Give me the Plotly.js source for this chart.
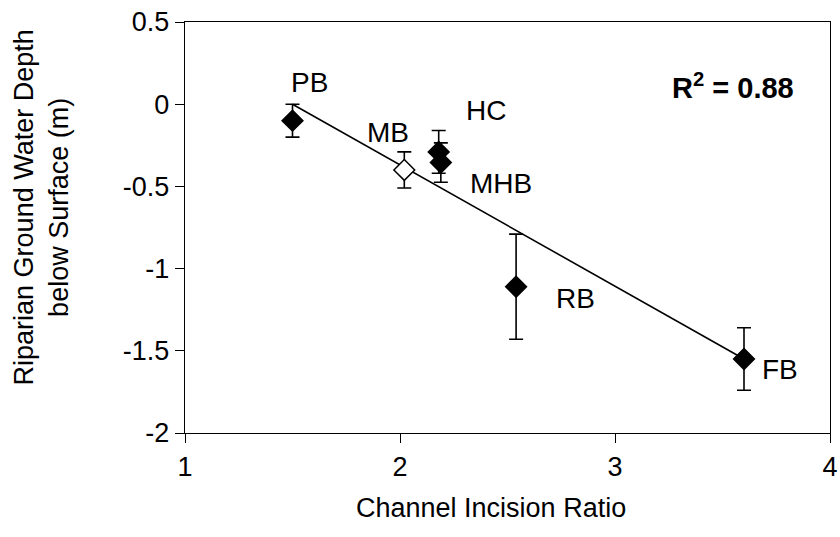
<!DOCTYPE html>
<html>
<head>
<meta charset="utf-8">
<script src="https://cdn.plot.ly/plotly-3.0.1.min.js"></script>
<style>html,body{margin:0;padding:0;background:#fff;}#chart{width:840px;height:537px;}</style>
</head>
<body>
<div id="chart"></div>
<script>
// Data
var sites = ["PB", "MB", "HC", "MHB", "RB", "FB"];
var incisionRatio = [1.5, 2.02, 2.18, 2.19, 2.54, 3.60];
var depth = [-0.10, -0.40, -0.29, -0.355, -1.11, -1.55];
var depthErr = [0.10, 0.11, 0.13, 0.12, 0.32, 0.19];
var filled = [true, false, true, true, true, true];
var trendX = [1.5, 3.6];
var trendY = [0.0, -1.55];
var rSquared = "0.88";
var xTicks = [1, 2, 3, 4];
var yTicks = [0.5, 0, -0.5, -1, -1.5, -2];
var xTitle = "Channel Incision Ratio";
var yTitle = "Riparian Ground Water Depth<br>below Surface (m)";

// label offsets (pixels) relative to each point
var labelShift = {
  PB: [17, 38], MB: [-16, 37], HC: [47, 41], MHB: [60, -21], RB: [59, -12], FB: [36, -10]
};

var FONT = "Liberation Sans, Arial, sans-serif";

var trend = {
  x: trendX, y: trendY, mode: "lines", type: "scatter",
  line: {color: "#000", width: 1.6}, hoverinfo: "skip", showlegend: false
};

var pts = {
  x: incisionRatio, y: depth, mode: "markers", type: "scatter", showlegend: false,
  error_y: {type: "data", array: depthErr, visible: true, color: "#000", thickness: 1.6, width: 7},
  marker: {
    symbol: "diamond", size: 16,
    color: filled.map(function (f) { return f ? "#000" : "#fff"; }),
    line: {color: "#000", width: 1.5}
  }
};

var annotations = sites.map(function (s, i) {
  return {
    x: incisionRatio[i], y: depth[i], xref: "x", yref: "y", text: s, showarrow: false,
    xshift: labelShift[s][0], yshift: labelShift[s][1],
    font: {family: FONT, size: 28, color: "#000"}
  };
});
annotations.push({
  x: 0.85, y: 0.844, xref: "paper", yref: "paper", xanchor: "center", yanchor: "middle", showarrow: false,
  text: "<b>R<sup>2</sup> = " + rSquared + "</b>",
  font: {family: FONT, size: 29, color: "#000"}
});
// axis titles
annotations.push({
  x: 0.474, y: -0.182, xref: "paper", yref: "paper", xanchor: "center", yanchor: "middle", showarrow: false,
  text: xTitle, font: {family: FONT, size: 27, color: "#000"}
});
annotations.push({
  x: -0.2225, y: 0.55, xref: "paper", yref: "paper", xanchor: "center", yanchor: "middle", showarrow: false,
  textangle: -90, text: yTitle, font: {family: FONT, size: 27, color: "#000"}
});

var layout = {
  width: 840, height: 537,
  margin: {l: 185, r: 10, t: 22, b: 104},
  paper_bgcolor: "#fff", plot_bgcolor: "#fff",
  font: {family: FONT, color: "#000"},
  xaxis: {
    range: [1, 4], tickvals: xTicks, ticktext: xTicks.map(String),
    showgrid: false, zeroline: false, showline: true, mirror: true,
    linecolor: "#000", linewidth: 1.3, ticks: "outside", ticklen: 9, tickcolor: "#000", tickwidth: 1,
    tickfont: {family: FONT, size: 27, color: "#000"}
  },
  yaxis: {
    range: [-2, 0.5], tickvals: yTicks, ticktext: yTicks.map(String),
    showgrid: false, zeroline: false, showline: true, mirror: true,
    linecolor: "#000", linewidth: 1.3, ticks: "outside", ticklen: 9, tickcolor: "#000", tickwidth: 1,
    tickfont: {family: FONT, size: 27, color: "#000"}
  },
  annotations: annotations
};

Plotly.newPlot("chart", [trend, pts], layout, {displayModeBar: false, staticPlot: true});
</script>
</body>
</html>
